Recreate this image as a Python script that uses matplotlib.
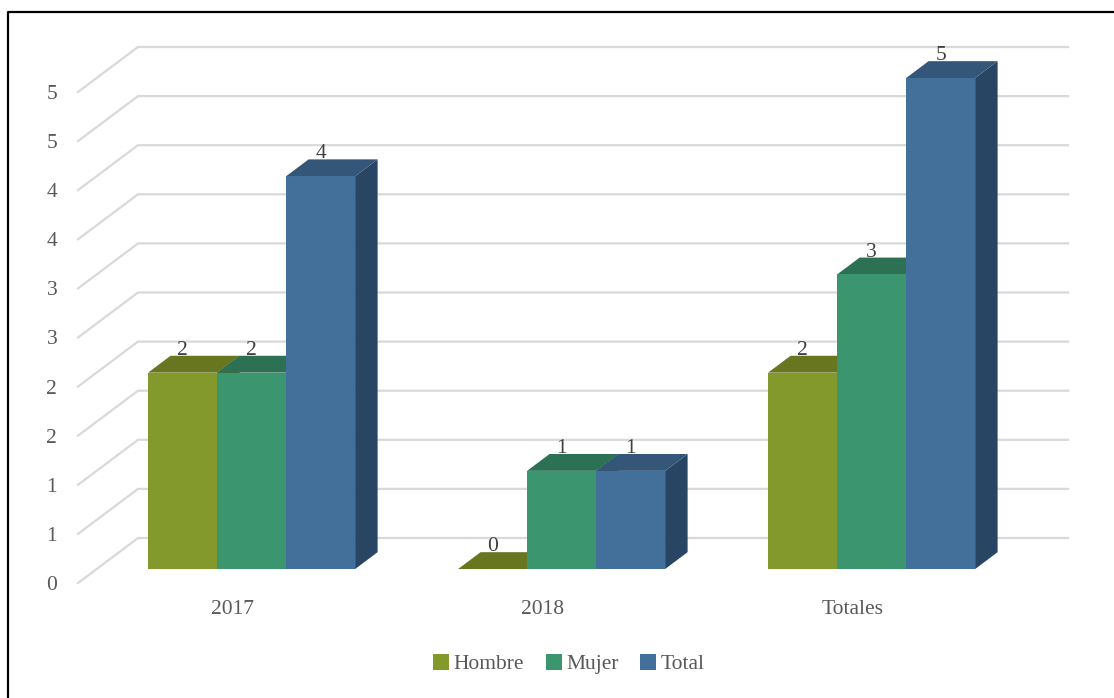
import numpy as np
import matplotlib
matplotlib.use("Agg")
import matplotlib.pyplot as plt
from matplotlib.patches import Polygon, Patch
from matplotlib.lines import Line2D
from matplotlib.transforms import IdentityTransform

plt.rcParams['font.family'] = ['Liberation Serif', 'DejaVu Serif']

categories = ['2017', '2018', 'Totales']
series = ['Hombre', 'Mujer', 'Total']
hombre = [2, 0, 2]
mujer = [2, 1, 3]
total = [4, 1, 5]
yticks = np.arange(0, 5.01, 0.5)

front_colors = ['#83992B', '#3B9670', '#436F9B']
top_colors = ['#67761F', '#2D7155', '#335679']
side_colors = ['#55621A', '#265E47', '#284663']
grid_color = '#D9D9D9'
text_color = '#595959'

# oblique depth of the whole floor, in pixels (display coords, y up)
DX, DY = 60.0, 45.0
BAR_D0, BAR_D1 = 0.31, 0.685   # bar front / back depth fraction
BAR_W = 0.2226
FS = 15.5


def main():
    fig = plt.figure(figsize=(11.14, 6.98), dpi=100)
    W, H = 1114, 698
    ax = fig.add_axes([78 / W, (H - 583) / H, 930 / W, 491 / H])
    ax.set_xlim(0, 3)
    ax.set_ylim(0, 5)
    for s in ax.spines.values():
        s.set_visible(False)
    ax.patch.set_alpha(0)

    def px(x, y, d):
        p = ax.transData.transform((x, y))
        return (p[0] + DX * d, p[1] + DY * d)

    def poly(verts, color, z):
        p = Polygon(verts, closed=True, facecolor=color, edgecolor='none',
                    transform=IdentityTransform(), clip_on=False, zorder=z)
        ax.add_patch(p)

    # back wall grid + left wall diagonals
    for v in yticks:
        a, b = px(0, v, 0), px(0, v, 1)
        c = px(3, v, 1)
        ax.add_line(Line2D([a[0], b[0], c[0]], [a[1], b[1], c[1]], color=grid_color,
                           lw=1.6, transform=IdentityTransform(), clip_on=False, zorder=1))

    values = [hombre, mujer, total]
    z = 2
    for i in range(len(categories)):
        for j in range(len(series)):
            v = values[j][i]
            x0 = i + 0.5 - 1.5 * BAR_W + j * BAR_W
            x1 = x0 + BAR_W
            # side
            poly([px(x1, 0, BAR_D0), px(x1, 0, BAR_D1), px(x1, v, BAR_D1), px(x1, v, BAR_D0)],
                 side_colors[j], z)
            # top
            poly([px(x0, v, BAR_D0), px(x1, v, BAR_D0), px(x1, v, BAR_D1), px(x0, v, BAR_D1)],
                 top_colors[j], z)
            # front
            if v > 0:
                poly([px(x0, 0, BAR_D0), px(x1, 0, BAR_D0), px(x1, v, BAR_D0), px(x0, v, BAR_D0)],
                     front_colors[j], z)
            z += 1
            # data label
            fx = px((x0 + x1) / 2, v, BAR_D0)[0]
            ly = px((x0 + x1) / 2, v, BAR_D1)[1]
            ax.text(fx, ly - 4, str(v), transform=IdentityTransform(), ha='center', va='bottom',
                    fontsize=FS, color='#404040', zorder=20)

    ax.set_yticks(yticks)
    ax.set_yticklabels([str(int(np.floor(v + 0.5))) for v in yticks])
    ax.set_xticks(np.arange(len(categories)) + 0.5)
    ax.set_xticklabels(categories)
    ax.tick_params(axis='y', length=0, pad=15, labelsize=FS, labelcolor=text_color)
    ax.tick_params(axis='x', length=0, pad=12, labelsize=FS, labelcolor=text_color)

    handles = [Patch(facecolor=c, edgecolor='none') for c in front_colors]
    fig.legend(handles, series, loc='center', bbox_to_anchor=(569 / W, 1 - 664 / H), ncol=3,
               frameon=False, fontsize=FS, labelcolor=text_color, handlelength=0.75,
               handleheight=0.75, handletextpad=0.2, columnspacing=1.0)

    # frame (left and top)
    fig.add_artist(Line2D([7.5 / W, 7.5 / W, 1.0], [0, 1 - 12 / H, 1 - 12 / H],
                          color='black', lw=1.6, transform=fig.transFigure))

    fig.savefig('out.png', dpi=100)


if __name__ == '__main__':
    main()
